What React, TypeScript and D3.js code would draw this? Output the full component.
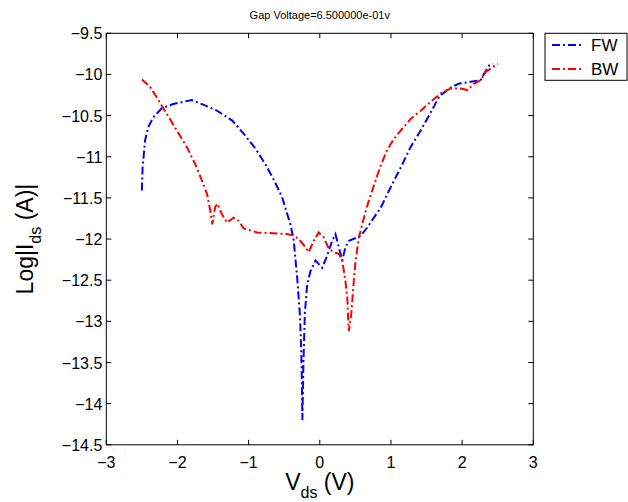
import React, { useEffect, useRef } from 'react';
import * as d3 from 'd3';

// Forward sweep (FW) — Vds and log|Ids|
const fwV = [
  -2.5, -2.49, -2.455, -2.41, -2.34, -2.22, -2.06, -1.8, -1.63, -1.445, -1.23, -1.07,
  -0.905, -0.765, -0.64, -0.53, -0.41, -0.366, -0.318, -0.28, -0.262, -0.25, -0.245,
  -0.23, -0.21, -0.177, -0.131, -0.06, 0.034, 0.104, 0.175, 0.22, 0.268, 0.315, 0.36,
  0.41, 0.527, 0.573, 0.668, 0.76, 0.855, 0.996, 1.137, 1.277, 1.418, 1.56, 1.676,
  1.817, 1.958, 2.12, 2.26, 2.31, 2.38, 2.43,
];
const fwL = [
  -11.41, -11.13, -10.8, -10.64, -10.52, -10.41, -10.36, -10.31, -10.37, -10.44, -10.56,
  -10.72, -10.9, -11.09, -11.29, -11.49, -11.83, -12.02, -12.47, -12.91, -13.32, -13.81,
  -14.2, -13.5, -12.9, -12.55, -12.39, -12.26, -12.35, -12.2, -12.02, -11.94, -12.1,
  -12.26, -12.1, -12.02, -11.98, -11.96, -11.86, -11.74, -11.62, -11.37, -11.13, -10.88,
  -10.68, -10.46, -10.27, -10.17, -10.11, -10.09, -10.07, -9.99, -9.89, -9.87,
];

// Backward sweep (BW)
const bwV = [
  -2.5, -2.385, -2.27, -2.15, -2.01, -1.87, -1.75, -1.656, -1.585, -1.54, -1.51, -1.47,
  -1.437, -1.375, -1.305, -1.21, -1.14, -1.07, -0.88, -0.65, -0.46, -0.366, -0.296, -0.2,
  -0.155, -0.085, -0.014, 0.056, 0.127, 0.197, 0.268, 0.315, 0.36, 0.386, 0.4, 0.408,
  0.442, 0.47, 0.503, 0.55, 0.62, 0.69, 0.76, 0.85, 0.93, 1.0, 1.08, 1.16, 1.277, 1.418,
  1.56, 1.7, 1.84, 1.98, 2.076, 2.17, 2.26, 2.33, 2.43, 2.5,
];
const bwL = [
  -10.06, -10.15, -10.31, -10.48, -10.68, -10.88, -11.09, -11.29, -11.45, -11.65, -11.82,
  -11.61, -11.57, -11.7, -11.8, -11.74, -11.78, -11.87, -11.92, -11.93, -11.94, -11.96,
  -12.0, -12.1, -12.16, -12.02, -11.92, -11.98, -12.12, -12.16, -12.18, -12.26, -12.51,
  -12.71, -13.0, -13.12, -12.91, -12.59, -12.26, -11.98, -11.74, -11.53, -11.35, -11.12,
  -10.95, -10.84, -10.74, -10.66, -10.54, -10.44, -10.33, -10.23, -10.17, -10.17, -10.19,
  -10.11, -10.07, -9.97, -9.91, -9.87,
];

const xTicks = [-3, -2, -1, 0, 1, 2, 3];
const yTicks = [-9.5, -10, -10.5, -11, -11.5, -12, -12.5, -13, -13.5, -14, -14.5];
const seriesNames = ['FW', 'BW'];
const seriesColors = ['#0000ff', '#ff0000'];
const title = 'Gap Voltage=6.500000e-01v';

const fmt = (v: number) => String(v).replace('-', '\u2212');

const App = () => {
  const ref = useRef<SVGSVGElement>(null);

  useEffect(() => {
    const svg = d3.select(ref.current);
    svg.selectAll('*').remove();

    const left = 106.3;
    const right = 533.3;
    const top = 33.3;
    const bottom = 444.8;
    const font = 'Liberation Sans, Arial, sans-serif';
    const dash = '8,3,2,3';

    const x = d3.scaleLinear().domain([-3, 3]).range([left, right]);
    const y = d3.scaleLinear().domain([-14.5, -9.5]).range([bottom, top]);

    // title
    svg
      .append('text')
      .attr('x', (left + right) / 2)
      .attr('y', 18.5)
      .attr('text-anchor', 'middle')
      .style('font-family', font)
      .style('font-size', '11px')
      .text(title);

    // data lines
    const line = d3
      .line<[number, number]>()
      .x((d) => x(d[0]))
      .y((d) => y(d[1]));

    const series = [
      fwV.map((v, i) => [v, fwL[i]] as [number, number]),
      bwV.map((v, i) => [v, bwL[i]] as [number, number]),
    ];

    series.forEach((s, i) => {
      svg
        .append('path')
        .datum(s)
        .attr('d', line)
        .attr('fill', 'none')
        .attr('stroke', seriesColors[i])
        .attr('stroke-width', 2)
        .attr('stroke-dasharray', dash);
    });

    // axes box with inward ticks on all sides
    svg
      .append('rect')
      .attr('x', left)
      .attr('y', top)
      .attr('width', right - left)
      .attr('height', bottom - top)
      .attr('fill', 'none')
      .attr('stroke', '#000')
      .attr('stroke-width', 1);

    const tickLen = 5;
    const g = svg.append('g').attr('stroke', '#000').attr('stroke-width', 1);
    xTicks.forEach((t) => {
      g.append('line').attr('x1', x(t)).attr('x2', x(t)).attr('y1', bottom).attr('y2', bottom - tickLen);
      g.append('line').attr('x1', x(t)).attr('x2', x(t)).attr('y1', top).attr('y2', top + tickLen);
    });
    yTicks.forEach((t) => {
      g.append('line').attr('x1', left).attr('x2', left + tickLen).attr('y1', y(t)).attr('y2', y(t));
      g.append('line').attr('x1', right).attr('x2', right - tickLen).attr('y1', y(t)).attr('y2', y(t));
    });

    // tick labels
    svg
      .append('g')
      .selectAll('text')
      .data(xTicks)
      .join('text')
      .attr('x', (d) => x(d))
      .attr('y', bottom + 23)
      .attr('text-anchor', 'middle')
      .style('font-family', font)
      .style('font-size', '16px')
      .text((d) => fmt(d));

    svg
      .append('g')
      .selectAll('text')
      .data(yTicks)
      .join('text')
      .attr('x', left - 4)
      .attr('y', (d) => y(d) + 6)
      .attr('text-anchor', 'end')
      .style('font-family', font)
      .style('font-size', '16px')
      .text((d) => fmt(d));

    // x label
    const xl = svg
      .append('text')
      .attr('x', (left + right) / 2)
      .attr('y', 490)
      .attr('text-anchor', 'middle')
      .style('font-family', font)
      .style('font-size', '23px');
    xl.append('tspan').text('V');
    xl.append('tspan').attr('dy', 8).style('font-size', '16px').text('ds');
    xl.append('tspan').attr('dy', -8).text(' (V)');

    // y label
    const yl = svg
      .append('text')
      .attr('transform', `translate(33, ${(top + bottom) / 2}) rotate(-90)`)
      .attr('text-anchor', 'middle')
      .style('font-family', font)
      .style('font-size', '23px');
    yl.append('tspan').text('Log|I');
    yl.append('tspan').attr('dy', 8).style('font-size', '16px').text('ds');
    yl.append('tspan').attr('dy', -8).text(' (A)|');

    // legend
    const lg = svg.append('g');
    lg.append('rect')
      .attr('x', 545)
      .attr('y', 33.3)
      .attr('width', 82)
      .attr('height', 47)
      .attr('fill', '#fff')
      .attr('stroke', '#000')
      .attr('stroke-width', 1);
    seriesNames.forEach((name, i) => {
      const ly = 45 + i * 24;
      lg.append('line')
        .attr('x1', 552)
        .attr('x2', 582)
        .attr('y1', ly)
        .attr('y2', ly)
        .attr('stroke', seriesColors[i])
        .attr('stroke-width', 2)
        .attr('stroke-dasharray', dash);
      lg.append('text')
        .attr('x', 591)
        .attr('y', ly + 6)
        .style('font-family', font)
        .style('font-size', '17px')
        .text(name);
    });
  }, []);

  return (
    <svg
      ref={ref}
      width={628}
      height={502}
      style={{ position: 'absolute', left: 0, top: 0, background: '#fff' }}
    />
  );
};

export default App;
